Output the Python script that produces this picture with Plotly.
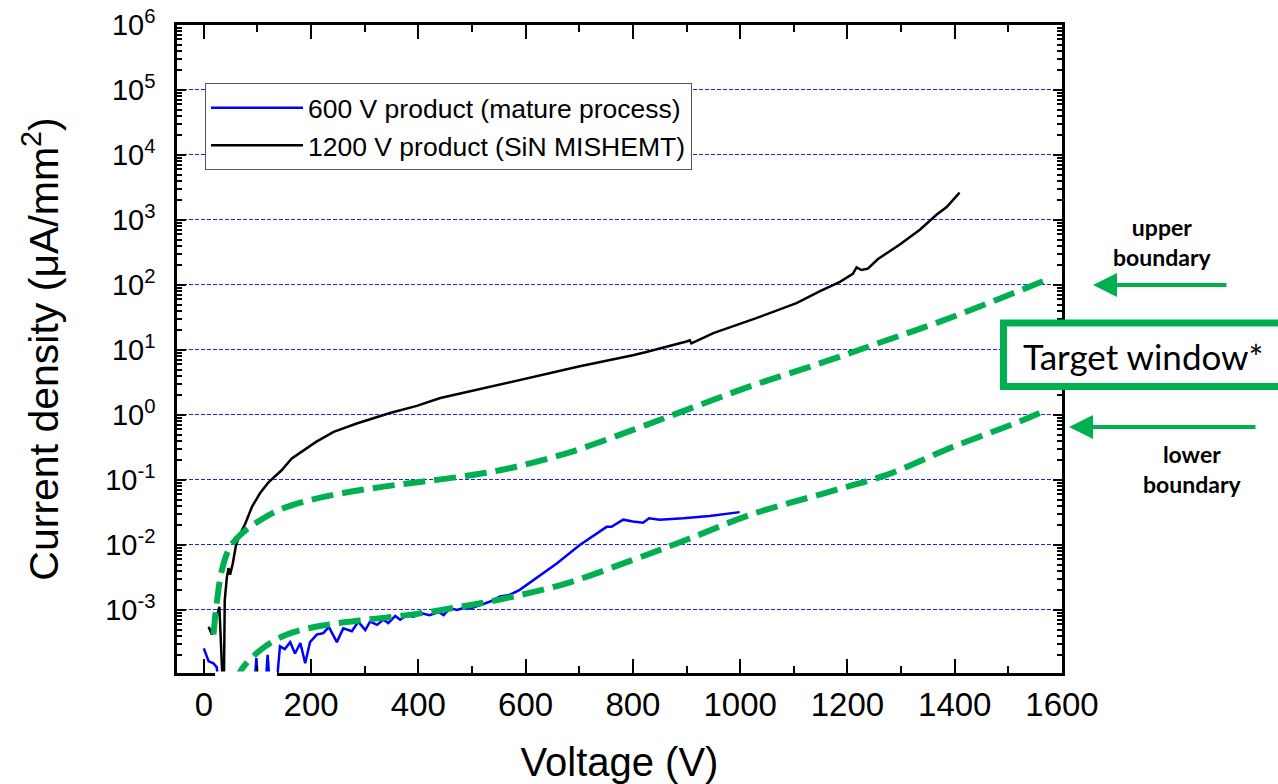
import plotly.graph_objects as go

# ---------------- data ----------------
blue_v = [0, 9, 18, 24, 30, 93, 98, 102, 114, 119, 124, 134, 142, 151, 161, 170, 180, 189, 198,
          211, 223, 233, 248, 260, 276, 288, 301, 310, 323, 335, 344, 357, 366, 379, 391, 406,
          421, 438, 447, 459, 472, 484, 497, 515, 534, 552, 570, 589, 620, 658, 701, 751, 760,
          782, 800, 819, 830, 850, 894, 943, 999]
blue_j = [2.57e-4, 1.62e-4, 1.51e-4, 1.32e-4, 5e-5, 5e-5, 1.82e-4, 5e-5, 5e-5, 2.04e-4, 5e-5,
          5e-5, 2.75e-4, 2.5e-4, 3.2e-4, 2.14e-4, 3.1e-4, 1.51e-4, 3.2e-4, 4.2e-4, 4.4e-4,
          5.5e-4, 3.2e-4, 5.2e-4, 4.7e-4, 6.6e-4, 4.9e-4, 6.6e-4, 5.9e-4, 7.1e-4, 6.3e-4,
          8.1e-4, 7.1e-4, 8.3e-4, 7.9e-4, 8.9e-4, 8.3e-4, 9.3e-4, 8.3e-4, 1.07e-3, 1.0e-3,
          1.07e-3, 1.05e-3, 1.2e-3, 1.35e-3, 1.62e-3, 1.7e-3, 2.04e-3, 3.1e-3, 5.2e-3, 1.0e-2,
          1.9e-2, 1.9e-2, 2.45e-2, 2.3e-2, 2.2e-2, 2.57e-2, 2.45e-2, 2.57e-2, 2.8e-2, 3.2e-2]

black_v = [9, 15, 29, 33, 35, 37, 39, 43, 46, 49, 54, 60, 68, 77, 90, 105, 121, 145, 164, 186,
           210, 242, 285, 347, 397, 441, 484, 552, 589, 676, 701, 800, 825, 900, 906, 909, 950,
           1030, 1105, 1148, 1186, 1210, 1217, 1226, 1238, 1257, 1297, 1335, 1366, 1385, 1409]
black_j = [5.5e-4, 4.2e-4, 1.12e-3, 1.6e-4, 3.2e-5, 3.2e-5, 1.41e-3, 3.2e-3, 4.4e-3, 3.5e-3,
           5.2e-3, 1.0e-2, 1.5e-2, 2.1e-2, 3.9e-2, 6.3e-2, 9.3e-2, 0.141, 0.214, 0.288, 0.389,
           0.55, 0.74, 1.07, 1.38, 1.82, 2.19, 2.88, 3.47, 5.0, 5.6, 8.3, 9.3, 13.5, 14.1, 12.6,
           18.2, 30.9, 52.5, 79.4, 112, 148, 186, 170, 178, 251, 417, 708, 1202, 1585, 2630]

upper_v = [18, 24, 34, 49, 74, 105, 142, 198, 260, 335, 403, 478, 552, 676, 800, 900, 1018,
           1158, 1273, 1397, 1577]
upper_j = [4.2e-4, 1.26e-3, 4.2e-3, 9.3e-3, 1.58e-2, 2.4e-2, 3.5e-2, 4.9e-2, 6.3e-2, 7.9e-2,
           9.3e-2, 0.112, 0.141, 0.257, 0.589, 1.2, 2.75, 6.6, 14.1, 32.4, 126]

lower_v = [64, 68, 105, 155, 229, 310, 397, 478, 552, 676, 800, 900, 1018, 1158, 1273, 1397,
           1521, 1571]
lower_j = [7.9e-5, 1.12e-4, 2.4e-4, 4.2e-4, 5.9e-4, 7.2e-4, 8.7e-4, 1.12e-3, 1.45e-3, 2.57e-3,
           5.9e-3, 1.2e-2, 2.9e-2, 6.3e-2, 0.12, 0.324, 0.794, 1.2]

x_ticks = [0, 200, 400, 600, 800, 1000, 1200, 1400, 1600]
y_tick_vals = [1e-3, 1e-2, 1e-1, 1e0, 1e1, 1e2, 1e3, 1e4, 1e5, 1e6]
y_tick_text = ["10<sup>-3</sup>", "10<sup>-2</sup>", "10<sup>-1</sup>", "10<sup>0</sup>",
               "10<sup>1</sup>", "10<sup>2</sup>", "10<sup>3</sup>", "10<sup>4</sup>",
               "10<sup>5</sup>", "10<sup>6</sup>"]
# log minor tick positions (2..9 in every decade)
y_minor_ticks = [m * 10.0 ** e for e in range(-4, 6) for m in range(2, 10)]

series_names = ["600 V product (mature process)", "1200 V product (SiN MISHEMT)"]

GREEN = "#00b050"
FONT = "Liberation Sans, Arial, sans-serif"
CAL = "Lato, Open Sans, sans-serif"

fig = go.Figure()
fig.add_trace(go.Scatter(x=blue_v, y=blue_j, mode="lines", name=series_names[0],
                         line=dict(color="#0000ff", width=2.5)))
fig.add_trace(go.Scatter(x=black_v, y=black_j, mode="lines", name=series_names[1],
                         line=dict(color="black", width=2.5)))
fig.add_trace(go.Scatter(x=upper_v, y=upper_j, mode="lines", showlegend=False,
                         line=dict(color=GREEN, width=6, dash="22px,9px", shape="spline")))
fig.add_trace(go.Scatter(x=lower_v, y=lower_j, mode="lines", showlegend=False,
                         line=dict(color=GREEN, width=6, dash="22px,9px", shape="spline")))

fig.update_layout(
    width=1278, height=784,
    margin=dict(l=177, r=216, t=25, b=111, autoexpand=False),
    paper_bgcolor="white", plot_bgcolor="white",
    font=dict(family=FONT, color="black"),
    legend=dict(x=(205 - 177) / 885, y=(673 - 83) / 648, xanchor="left", yanchor="top",
                bgcolor="white", bordercolor="#555555", borderwidth=1,
                font=dict(family=FONT, size=26.5, color="black"),
                itemwidth=92, tracegroupgap=0),
)

fig.update_xaxes(
    range=[-50, 1600], tickvals=x_ticks, ticks="inside", ticklen=14, tickwidth=2,
    tickcolor="black", showline=True, linewidth=2.5, linecolor="black", mirror="allticks",
    showgrid=False, zeroline=False, ticklabelstandoff=1, automargin=False,
    tickfont=dict(family=FONT, size=33, color="black"),
    minor=dict(dtick=100, tick0=0, ticks="inside", ticklen=7, tickwidth=2, tickcolor="black",
               showgrid=False),
    title=dict(text="Voltage (V)", font=dict(family=FONT, size=40, color="black"), standoff=30),
)

fig.update_yaxes(
    type="log", range=[-3.97, 6], tickmode="array", tickvals=y_tick_vals, ticktext=y_tick_text,
    ticks="inside", ticklen=9, tickwidth=2, tickcolor="black",
    showline=True, linewidth=2.5, linecolor="black", mirror="allticks",
    showgrid=True, gridcolor="#2020ff", gridwidth=1, griddash="4px,2px", zeroline=False,
    ticklabelstandoff=13, automargin=False,
    tickfont=dict(family=FONT, size=29, color="black"),
    minor=dict(tickmode="array", tickvals=y_minor_ticks, ticks="inside", ticklen=5,
               tickwidth=1.5, tickcolor="black", showgrid=False),
    title=dict(text="Current density (μA/mm<sup>2</sup>)",
               font=dict(family=FONT, size=41, color="black"), standoff=34),
)

# small white gap on the bottom axis, as in the reference
fig.add_shape(type="rect", xref="paper", yref="paper", x0=0.0429, x1=0.113, y0=-0.0046,
              y1=0.0023, fillcolor="white", line=dict(width=0), layer="above")

# Target window box
fig.add_shape(type="rect", xref="paper", yref="paper",
              x0=(1003.5 - 177) / 885, x1=(1290 - 177) / 885,
              y0=(673 - 386.5) / 648, y1=(673 - 323) / 648,
              fillcolor="white", line=dict(color=GREEN, width=7), layer="above")
fig.add_annotation(xref="paper", yref="paper", x=(1143 - 177) / 885, y=(673 - 356) / 648,
                   text="Target window*", showarrow=False,
                   font=dict(family=CAL, size=35, color="black"),
                   xanchor="center", yanchor="middle")

# boundary labels and arrows
fig.add_annotation(xref="paper", yref="paper", x=(1162 - 177) / 885, y=(673 - 242) / 648,
                   text="<b>upper<br>boundary</b>", showarrow=False,
                   font=dict(family=CAL, size=23, color="black"),
                   xanchor="center", yanchor="middle")
fig.add_annotation(xref="paper", yref="paper", x=(1192 - 177) / 885, y=(673 - 469) / 648,
                   text="<b>lower<br>boundary</b>", showarrow=False,
                   font=dict(family=CAL, size=23, color="black"),
                   xanchor="center", yanchor="middle")
fig.add_annotation(xref="paper", yref="paper", x=(1093 - 177) / 885, y=(673 - 285) / 648,
                   ax=135, ay=0, axref="pixel", ayref="pixel", text="", showarrow=True,
                   arrowhead=2, arrowsize=1.2, arrowwidth=4, arrowcolor=GREEN, standoff=0)
fig.add_annotation(xref="paper", yref="paper", x=(1069 - 177) / 885, y=(673 - 427) / 648,
                   ax=188, ay=0, axref="pixel", ayref="pixel", text="", showarrow=True,
                   arrowhead=2, arrowsize=1.2, arrowwidth=4, arrowcolor=GREEN, standoff=0)

# remove the browser's default 8px page margin so the figure sits at the window origin
fig.write_html("out.html", config={"displayModeBar": False},
               post_script="document.body.style.margin='0';")
